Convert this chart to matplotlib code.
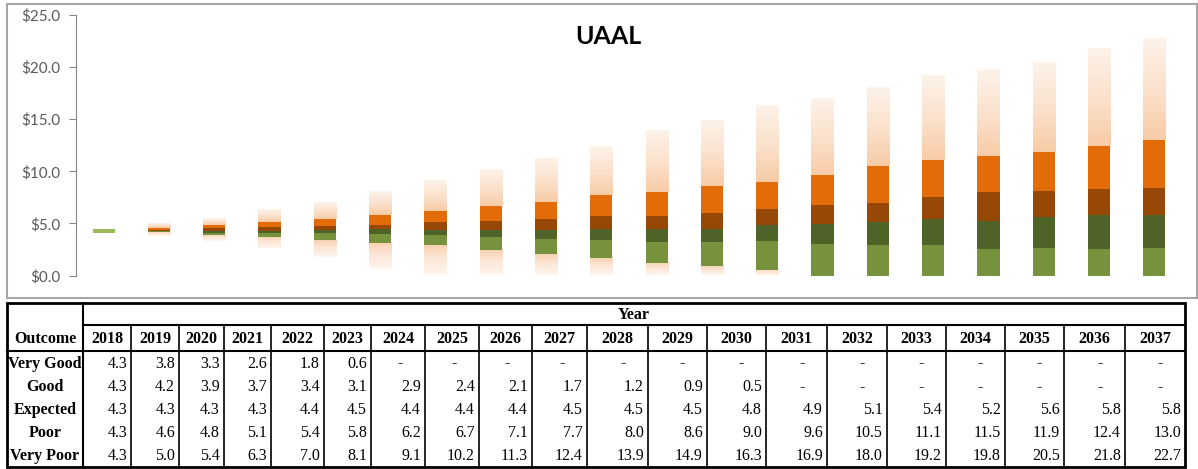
import matplotlib.pyplot as plt
import numpy as np
from matplotlib.colors import LinearSegmentedColormap
from matplotlib.patches import Rectangle
from matplotlib.ticker import FuncFormatter

years = list(range(2018, 2038))
outcomes = ["Very Good", "Good", "Expected", "Poor", "Very Poor"]

# table values (0 shown as "-")
very_good = [4.3, 3.8, 3.3, 2.6, 1.8, 0.6, 0, 0, 0, 0, 0, 0, 0, 0, 0, 0, 0, 0, 0, 0]
good = [4.3, 4.2, 3.9, 3.7, 3.4, 3.1, 2.9, 2.4, 2.1, 1.7, 1.2, 0.9, 0.5, 0, 0, 0, 0, 0, 0, 0]
expected = [4.3, 4.3, 4.3, 4.3, 4.4, 4.5, 4.4, 4.4, 4.4, 4.5, 4.5, 4.5, 4.8, 4.9, 5.1, 5.4, 5.2, 5.6, 5.8, 5.8]
poor = [4.3, 4.6, 4.8, 5.1, 5.4, 5.8, 6.2, 6.7, 7.1, 7.7, 8.0, 8.6, 9.0, 9.6, 10.5, 11.1, 11.5, 11.9, 12.4, 13.0]
very_poor = [4.3, 5.0, 5.4, 6.3, 7.0, 8.1, 9.1, 10.2, 11.3, 12.4, 13.9, 14.9, 16.3, 16.9, 18.0, 19.2, 19.8, 20.5, 21.8, 22.7]

# intermediate band edges
lower_mid = [4.3, 4.25, 4.1, 4.1, 4.1, 4.0, 3.9, 3.7, 3.5, 3.4, 3.2, 3.2, 3.3, 3.0, 2.9, 2.9, 2.55, 2.65, 2.55, 2.65]
upper_mid = [4.3, 4.4, 4.55, 4.65, 4.75, 4.85, 5.1, 5.2, 5.4, 5.7, 5.7, 6.0, 6.4, 6.75, 7.0, 7.5, 8.0, 8.1, 8.3, 8.4]
current = [4.3] + [np.nan] * 19

W, H = 1198, 469
fig = plt.figure(figsize=(W / 100, H / 100), dpi=100)

# background / table axes in pixel coordinates
bg = fig.add_axes([0, 0, 1, 1])
bg.set_xlim(0, W)
bg.set_ylim(H, 0)
bg.axis("off")
bg.add_patch(Rectangle((7, 4), 1190, 294, fill=False, ec="#a6a6a6", lw=1.5))

# chart
ax = fig.add_axes([76 / W, (H - 275.5) / H, 1106 / W, (275.5 - 15) / H])
x = np.arange(len(years))
bw = 0.4
vg = np.array(very_good)
gd = np.array(good)
ex = np.array(expected)
pr = np.array(poor)
vp = np.array(very_poor)
lm = np.array(lower_mid)
um = np.array(upper_mid)

top_cmap = LinearSegmentedColormap.from_list("top", [(0, "#f8cba6"), (0.45, "#fbe0ca"), (1, "#fdf3ea")])
bot_cmap = LinearSegmentedColormap.from_list("bot", [(0, "#fef6ef"), (0.6, "#fce4d2"), (1, "#f9d0ae")])
grad = np.linspace(0, 1, 256).reshape(-1, 1)

for i in x:
    if gd[i] - vg[i] > 0:
        ax.imshow(grad, cmap=bot_cmap, origin="lower", aspect="auto", interpolation="bilinear",
                  extent=[i - bw / 2, i + bw / 2, vg[i], gd[i]], zorder=2)
    if vp[i] - pr[i] > 0:
        ax.imshow(grad, cmap=top_cmap, origin="lower", aspect="auto", interpolation="bilinear",
                  extent=[i - bw / 2, i + bw / 2, pr[i], vp[i]], zorder=2)

ax.bar(x, lm - gd, bw, bottom=gd, color="#76923c", zorder=3)
ax.bar(x, ex - lm, bw, bottom=lm, color="#4f6228", zorder=3)
ax.bar(x, um - ex, bw, bottom=ex, color="#984806", zorder=3)
ax.bar(x, pr - um, bw, bottom=um, color="#e36c09", zorder=3)
cur = np.array(current)
ax.bar(x, 0.42, bw, bottom=cur - 0.21, color="#9bbb59", zorder=3)

ax.set_xlim(-0.5, len(years) - 0.5)
ax.set_ylim(0, 25)
ax.set_yticks(np.arange(0, 26, 5))
ax.yaxis.set_major_formatter(FuncFormatter(lambda v, p: "\\$%.1f" % v))
ax.set_xticks([])
for s in ["top", "right", "bottom"]:
    ax.spines[s].set_visible(False)
ax.spines["left"].set_color("#868686")
ax.tick_params(axis="y", length=5, color="#868686", labelcolor="#595959", labelsize=11, pad=6)
for lab in ax.get_yticklabels():
    lab.set_family("Lato")
ax.patch.set_alpha(0)
fig.text(608 / W, 1 - 37 / H, "UAAL", ha="center", va="center", fontsize=18,
         fontweight="bold", family="Lato")

# table
edges = [7, 83, 131, 179, 224, 271, 324, 371, 425, 479, 532, 587, 648, 707, 766, 827, 887, 946, 1005, 1064, 1125, 1185]
t_top, t_mid, t_head, t_bot = 303, 325, 351, 467
bg.add_patch(Rectangle((edges[0], t_top), edges[-1] - edges[0], t_bot - t_top, fill=False, ec="black", lw=2))
bg.plot([edges[1], edges[-1]], [t_mid, t_mid], color="black", lw=1.5)
bg.plot([edges[0], edges[-1]], [t_head, t_head], color="black", lw=1.5)
bg.plot([edges[1], edges[1]], [t_top, t_bot], color="black", lw=1.5)
for e in edges[2:-1]:
    bg.plot([e, e], [t_mid, t_bot], color="black", lw=1.2)

tfont = dict(family="Liberation Serif", fontsize=11.5)
bg.text((edges[1] + edges[-1]) / 2, (t_top + t_mid) / 2 + 1, "Year", ha="center", va="center", fontweight="bold", **tfont)
bg.text((edges[0] + edges[1]) / 2, (t_mid + t_head) / 2 + 1, "Outcome", ha="center", va="center", fontweight="bold", **tfont)
for j, yr in enumerate(years):
    bg.text((edges[j + 1] + edges[j + 2]) / 2, (t_mid + t_head) / 2 + 1, str(yr), ha="center", va="center",
            fontweight="bold", **tfont)

rows = [very_good, good, expected, poor, very_poor]
rh = (t_bot - t_head) / len(rows)
for r, (name, vals) in enumerate(zip(outcomes, rows)):
    yc = t_head + (r + 0.5) * rh + 1
    bg.text((edges[0] + edges[1]) / 2, yc, name, ha="center", va="center", fontweight="bold", **tfont)
    for j, v in enumerate(vals):
        right = edges[j + 2]
        if v == 0:
            bg.text(right - 25, yc, "-", ha="center", va="center", **tfont)
        else:
            bg.text(right - 4, yc, "%.1f" % v, ha="right", va="center", **tfont)

fig.savefig("out.png", dpi=100)
